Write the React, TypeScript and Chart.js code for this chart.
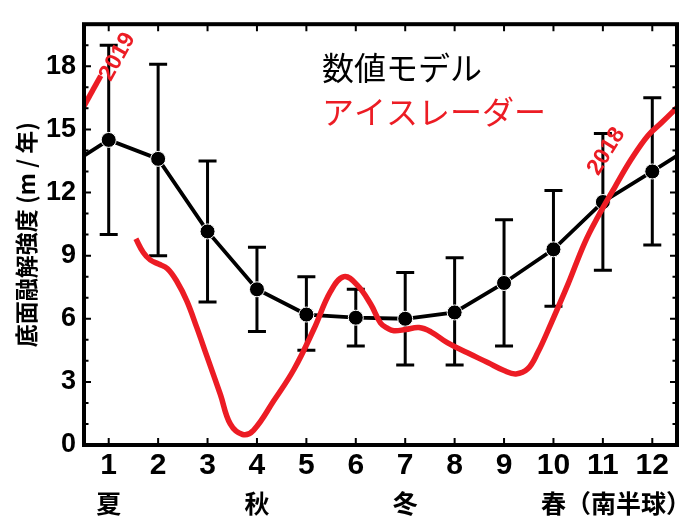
import React, { useEffect, useRef } from 'react';
import { Chart, registerables } from 'chart.js';

Chart.register(...registerables);

// ---- data ----
const months = [1, 2, 3, 4, 5, 6, 7, 8, 9, 10, 11, 12];
const xTickLabels = ['1', '2', '3', '4', '5', '6', '7', '8', '9', '10', '11', '12'];
const modelMean = [14.5, 13.6, 10.15, 7.4, 6.2, 6.05, 6.0, 6.3, 7.7, 9.3, 11.55, 13.0];
const modelUpper = [19.0, 18.1, 13.5, 9.4, 8.0, 7.4, 8.2, 8.9, 10.7, 12.1, 14.8, 16.5];
const modelLower = [10.0, 9.0, 6.8, 5.4, 4.5, 4.7, 3.8, 3.8, 4.7, 6.6, 8.3, 9.5];
// cyclic continuation of the model line beyond the plot edges (Dec before Jan, Jan after Dec)
const modelWrapMonth = [0, 13];
const modelWrapValue = [13.0, 14.5];

const radarMonth = [
  1.55, 1.7, 1.84, 2.01, 2.19, 2.38, 2.58, 2.78, 2.99, 3.26, 3.46, 3.71, 3.93, 4.34, 4.75,
  5.15, 5.49, 5.76, 6.03, 6.3, 6.5, 6.64, 6.77, 7.01, 7.28, 7.52, 7.86, 8.26, 8.67, 9.0,
  9.24, 9.48, 9.68, 9.95, 10.29, 10.63, 10.9, 11.24, 11.58, 11.91, 12.18, 12.57,
];
const radarValue = [
  9.8, 9.15, 8.8, 8.6, 8.38, 7.77, 6.85, 5.6, 4.2, 2.4, 1.0, 0.5, 0.7, 2.1, 3.6,
  5.5, 7.3, 8.0, 7.6, 6.7, 5.8, 5.55, 5.43, 5.49, 5.58, 5.38, 4.85, 4.38, 3.92, 3.54,
  3.38, 3.62, 4.38, 5.77, 7.62, 9.6, 10.85, 12.25, 13.6, 14.7, 15.3, 16.2,
];
const radar2019Month = [0.45, 0.84];
const radar2019Value = [15.9, 17.55];

const yTickValues = [0, 3, 6, 9, 12, 15, 18];
const seasonMonths = [1, 4, 7, 10];
const seasonTexts = ['夏', '秋', '冬', '春（南半球）'];
const legendTexts = ['数値モデル', 'アイスレーダー'];
const yearTexts = ['2019', '2018'];
const yearMonth = [1.18, 11.07];
const yearValue = [18.45, 13.95];

const RED = '#ec1c24';
const BLACK = '#000000';
const CJK = "'Noto Sans CJK JP', 'Noto Sans', sans-serif";
const DIGIT = "'Liberation Sans', Arial, sans-serif";

const errorBarPlugin = {
  id: 'errorBars',
  beforeDatasetsDraw(chart: any) {
    const { ctx, scales } = chart;
    const x = scales.x;
    const y = scales.y;
    ctx.save();
    ctx.strokeStyle = BLACK;
    ctx.lineWidth = 3;
    months.forEach((m, i) => {
      const px = x.getPixelForValue(m);
      const top = y.getPixelForValue(modelUpper[i]);
      const bot = y.getPixelForValue(modelLower[i]);
      ctx.beginPath();
      ctx.moveTo(px, top);
      ctx.lineTo(px, bot);
      ctx.moveTo(px - 9, top);
      ctx.lineTo(px + 9, top);
      ctx.moveTo(px - 9, bot);
      ctx.lineTo(px + 9, bot);
      ctx.stroke();
    });
    ctx.restore();
  },
};

const framePlugin = {
  id: 'frame',
  afterDatasetsDraw(chart: any) {
    const { ctx, chartArea, scales } = chart;
    const { left, right, top, bottom } = chartArea;
    ctx.save();
    ctx.strokeStyle = BLACK;
    ctx.lineWidth = 2;
    ctx.beginPath();
    months.forEach((m) => {
      const px = scales.x.getPixelForValue(m);
      ctx.moveTo(px, bottom);
      ctx.lineTo(px, bottom - 7);
      ctx.moveTo(px, top);
      ctx.lineTo(px, top + 7);
    });
    for (let v = 1; v < 20; v++) {
      const py = scales.y.getPixelForValue(v);
      const len = v % 3 === 0 ? 7 : 4.5;
      ctx.moveTo(left, py);
      ctx.lineTo(left + len, py);
      ctx.moveTo(right, py);
      ctx.lineTo(right - len, py);
    }
    ctx.stroke();
    ctx.lineWidth = 4;
    ctx.strokeRect(left, top, right - left, bottom - top);
    ctx.restore();
  },
};

const textPlugin = {
  id: 'texts',
  afterDraw(chart: any) {
    const { ctx, chartArea, scales } = chart;
    ctx.save();
    // legend
    ctx.textAlign = 'left';
    ctx.textBaseline = 'middle';
    ctx.font = `32px ${CJK}`;
    ctx.fillStyle = BLACK;
    ctx.fillText(legendTexts[0], chartArea.left + 238, chartArea.top + 44);
    ctx.fillStyle = RED;
    ctx.fillText(legendTexts[1], chartArea.left + 238, chartArea.top + 88);
    // year labels
    ctx.font = `bold 23px ${DIGIT}`;
    ctx.textAlign = 'center';
    const angles = [-61, -58];
    yearTexts.forEach((t, i) => {
      const px = scales.x.getPixelForValue(yearMonth[i]);
      const py = scales.y.getPixelForValue(yearValue[i]);
      ctx.save();
      ctx.translate(px, py);
      ctx.rotate((angles[i] * Math.PI) / 180);
      ctx.fillStyle = RED;
      ctx.fillText(t, 0, 0);
      ctx.restore();
    });
    // seasons
    ctx.font = `bold 25px ${CJK}`;
    ctx.fillStyle = BLACK;
    seasonTexts.forEach((t, i) => {
      const px = scales.x.getPixelForValue(seasonMonths[i]);
      const py = chartArea.bottom + 58;
      if (t.length > 1) {
        ctx.textAlign = 'left';
        ctx.fillText(t, px - 12.5, py);
      } else {
        ctx.textAlign = 'center';
        ctx.fillText(t, px, py);
      }
    });
    ctx.restore();
  },
};

export default function App() {
  const canvasRef = useRef<HTMLCanvasElement | null>(null);

  useEffect(() => {
    if (!canvasRef.current) return;
    const modelData = [
      { x: modelWrapMonth[0], y: modelWrapValue[0] },
      ...months.map((m, i) => ({ x: m, y: modelMean[i] })),
      { x: modelWrapMonth[1], y: modelWrapValue[1] },
    ];
    const radarData = radarMonth.map((m, i) => ({ x: m, y: radarValue[i] }));
    const radar2019Data = radar2019Month.map((m, i) => ({ x: m, y: radar2019Value[i] }));

    const chart = new Chart(canvasRef.current, {
      type: 'line',
      data: {
        datasets: [
          {
            label: legendTexts[1],
            data: radarData,
            borderColor: RED,
            borderWidth: 5.5,
            pointRadius: 0,
            tension: 0.4,
            fill: false,
            order: 0,
          },
          {
            label: '2019',
            data: radar2019Data,
            borderColor: RED,
            borderWidth: 5.5,
            pointRadius: 0,
            tension: 0,
            fill: false,
            order: 0,
          },
          {
            label: legendTexts[0],
            data: modelData,
            borderColor: BLACK,
            borderWidth: 3.8,
            pointRadius: modelData.map((_, i) => (i === 0 || i === modelData.length - 1 ? 0 : 7.5)),
            pointBackgroundColor: BLACK,
            pointBorderColor: '#ffffff',
            pointBorderWidth: 1,
            tension: 0,
            fill: false,
            order: 1,
          },
        ],
      },
      options: {
        animation: false,
        responsive: true,
        maintainAspectRatio: false,
        layout: { padding: { top: 12, right: 6, left: 0, bottom: 0 } },
        plugins: { legend: { display: false }, tooltip: { enabled: false } },
        scales: {
          x: {
            type: 'linear',
            min: 0.5,
            max: 12.5,
            grid: { display: false, drawTicks: false },
            border: { display: false },
            afterBuildTicks: (s: any) => {
              s.ticks = months.map((v) => ({ value: v }));
            },
            afterFit: (s: any) => {
              s.height = 75;
            },
            ticks: {
              autoSkip: false,
              maxRotation: 0,
              padding: 3,
              color: BLACK,
              font: { family: "'Liberation Sans Narrow', 'Liberation Sans', Arial, sans-serif", size: 30, weight: 'bold' },
              callback: (v: any) => xTickLabels[months.indexOf(Number(v))] ?? '',
            },
          },
          y: {
            min: 0,
            max: 20,
            grid: { display: false, drawTicks: false },
            border: { display: false },
            afterBuildTicks: (s: any) => {
              s.ticks = yTickValues.map((v) => ({ value: v }));
            },
            afterFit: (s: any) => {
              s.width = 84;
            },
            ticks: {
              padding: 8,
              color: BLACK,
              font: { family: DIGIT, size: 27, weight: 'bold' },
              callback: (v: any) => String(v),
            },
            title: {
              display: true,
              text: '底面融解強度 (m / 年)',
              color: BLACK,
              font: { family: CJK, size: 23, weight: 'bold' },
              padding: { top: 12, bottom: 0 },
            },
          },
        },
      },
      plugins: [errorBarPlugin, framePlugin, textPlugin],
    } as any);

    return () => chart.destroy();
  }, []);

  return (
    <div style={{ position: 'fixed', left: 0, top: 0, width: 683, height: 520, background: '#fff' }}>
      <canvas ref={canvasRef} />
    </div>
  );
}
